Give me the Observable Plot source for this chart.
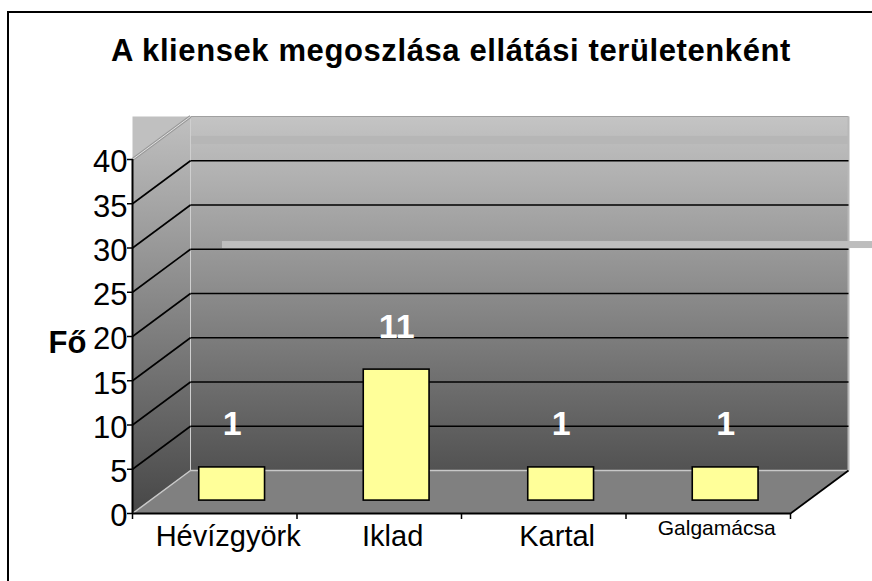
<!DOCTYPE html>
<html>
<head>
<meta charset="utf-8">
<script src="https://cdn.jsdelivr.net/npm/d3@7"></script>
<script src="https://cdn.jsdelivr.net/npm/@observablehq/plot@0.6"></script>
<style>
  body { margin: 0; background: #fff; }
  #wrap { position: relative; width: 872px; height: 581px; overflow: hidden; font-family: "Liberation Sans", Arial, sans-serif; }
  #chart { position: absolute; left: 0; top: 0; }
  #frame { position: absolute; left: 7px; top: 11px; width: 900px; height: 620px; border-left: 2px solid #000; border-top: 2px solid #000; pointer-events: none; }
  #title { position: absolute; left: 0; top: 35px; width: 902px; text-align: center; font-weight: bold; font-size: 31px; line-height: 31px; letter-spacing: 0.6px; color: #000; }
</style>
</head>
<body>
<div id="wrap">
  <div id="chart"></div>
  <div id="frame"></div>
  <div id="title"></div>
</div>
<script>
// ---- data ----
const title = "A kliensek megoszlása ellátási területenként";
const categories = ["Hévízgyörk", "Iklad", "Kartal", "Galgamácsa"];
const values = [3.75, 14.8, 3.75, 3.75];      // bar heights as read on the axis
const dataLabels = ["1", "11", "1", "1"];      // labels printed above the bars
const yTicks = [0, 5, 10, 15, 20, 25, 30, 35, 40];
const yLabel = "Fő";

document.getElementById("title").textContent = title;

// ---- oblique 3D projection (in scale units) ----
const W = 872, H = 581;
const mL = 132, mR = 82, mT = 159, mB = 68;
const xPerPx = 4 / (W - mL - mR);
const yPerPx = 40 / (H - mT - mB);
const DX = 58 * xPerPx;   // depth shift of the back wall
const DY = 43 * yPerPx;
const BD = 0.3;           // depth of the bars
const proj = (i, v, d) => ({x: i + d * DX, y: v + d * DY});

const rows = categories.map((c, i) => ({i, cat: c, value: values[i], label: dataLabels[i]}));
// the original shrank the last category label to fit
const shrunk = d => d.i === categories.length - 1;

const backWall = [proj(0, 0, 1), proj(4, 0, 1), proj(4, 40, 1), proj(0, 40, 1)];
const leftWall = [proj(0, 0, 0), proj(0, 0, 1), proj(0, 40, 1), proj(0, 40, 0)];
const corner = [{x: 0, y: 40 + DY}, proj(0, 40, 1), proj(0, 40, 0)];
const floor = [proj(0, 0, 0), proj(4, 0, 0), proj(4, 0, 1), proj(0, 0, 1)];
const inner = yTicks.filter(v => v > 0 && v < 40);

const svg = Plot.plot({
  width: W, height: H,
  marginLeft: mL, marginRight: mR, marginTop: mT, marginBottom: mB,
  x: {domain: [0, 4], axis: null},
  y: {domain: [0, 40], axis: null},
  style: {fontFamily: "'Liberation Sans', Arial, sans-serif", background: "transparent", overflow: "visible", color: "#000"},
  marks: [
    // walls and floor
    Plot.line(corner, {x: "x", y: "y", fill: "#c0c0c0", stroke: "none"}),
    Plot.line(backWall, {x: "x", y: "y", fill: "url(#gBack)", stroke: "none"}),
    Plot.line(leftWall, {x: "x", y: "y", fill: "url(#gLeft)", stroke: "none"}),
    Plot.line(floor, {x: "x", y: "y", fill: "#808080", stroke: "none"}),
    // artefact band of the original image
    Plot.rect([0], {x1: () => DX, x2: () => 4 + DX, y1: () => 41.7, y2: () => 42.6, fill: "#b6b6b6"}),
    // back wall edges
    Plot.link([40], {x1: () => DX, x2: () => 4 + DX, y1: v => v + DY, y2: v => v + DY, stroke: "#a0a0a0", strokeWidth: 1.2}),
    Plot.link([0], {x1: () => 4 + DX, x2: () => 4 + DX, y1: () => DY, y2: () => 40 + DY, stroke: "#b8b8b8", strokeWidth: 2}),
    Plot.link([0], {x1: () => DX, x2: () => DX, y1: () => DY, y2: () => 40 + DY, stroke: "#cfcfcf", strokeWidth: 1}),
    // gridlines on back wall
    Plot.link(inner, {x1: () => DX, x2: () => 4 + DX, y1: v => v + DY, y2: v => v + DY, stroke: "#000", strokeWidth: 1.6}),
    // gridlines on left wall
    Plot.link(inner, {x1: () => 0, x2: () => DX, y1: v => v, y2: v => v + DY, stroke: "#000", strokeWidth: 1.6}),
    Plot.link([40], {x1: () => 0, x2: () => DX, y1: v => v, y2: v => v + DY, stroke: "#9a9a9a", strokeWidth: 3}),
    Plot.link([40], {x1: () => 0, x2: () => DX, y1: v => v, y2: v => v + DY, stroke: "#e4e4e4", strokeWidth: 1}),
    // floor edges
    Plot.link([0], {x1: () => DX, x2: () => 4 + DX, y1: () => DY, y2: () => DY, stroke: "#c8c8c8", strokeWidth: 1.5}),
    Plot.link([0], {x1: () => 0, x2: () => DX, y1: () => 0, y2: () => DY, stroke: "#c8c8c8", strokeWidth: 1.5}),
    Plot.link([0], {x1: () => 4, x2: () => 4 + DX, y1: () => 0, y2: () => DY, stroke: "#000", strokeWidth: 1.8}),
    // artefact strip of the original image
    Plot.rect([0], {x1: () => 0.547, x2: () => 4.5, y1: () => 29.94, y2: () => 30.73, fill: "#bdbdbd"}),
    // bars
    Plot.rect(rows, {
      x1: d => d.i + 0.5 - 0.2 + BD * DX, x2: d => d.i + 0.5 + 0.2 + BD * DX,
      y1: () => BD * DY, y2: d => d.value + BD * DY,
      fill: "#ffff99", stroke: "#000", strokeWidth: 1.6
    }),
    // data labels
    Plot.text(rows, {
      x: d => d.i + 0.5 + BD * DX, y: d => d.value + BD * DY, text: "label",
      dy: -43, fill: "#fff", fontWeight: "bold", fontSize: 34
    }),
    // axes
    Plot.ruleY([0], {stroke: "#000", strokeWidth: 2}),
    Plot.ruleX([0], {stroke: "#000", strokeWidth: 2}),
    Plot.axisY({ticks: yTicks, tickFormat: () => "", label: null, tickSize: 5, stroke: "#000", strokeWidth: 1.5}),
    Plot.text(yTicks, {frameAnchor: "left", y: d => d, text: d => String(d), textAnchor: "end", dx: -5, dy: 3, fontSize: 31, fill: "#000"}),
    Plot.axisX({ticks: [0, 1, 2, 3, 4], tickFormat: () => "", label: null, tickSize: 6, stroke: "#000", strokeWidth: 1.5}),
    Plot.text(rows.filter(d => !shrunk(d)), {
      x: d => d.i + 0.5 + BD * DX, y: () => 0, text: "cat", dx: -4, dy: 12,
      lineAnchor: "top", fontSize: 29, fill: "#000"
    }),
    Plot.text(rows.filter(shrunk), {
      x: d => d.i + 0.5 + BD * DX, y: () => 0, text: "cat", dx: -9, dy: 7,
      lineAnchor: "top", fontSize: 21, fill: "#000"
    }),
    Plot.text([yLabel], {frameAnchor: "left", y: () => 20, dx: -65, dy: 7, textAnchor: "middle", fontWeight: "bold", fontSize: 31, fill: "#000"})
  ]
});

d3.select(svg).insert("defs", ":first-child").html(
  '<linearGradient id="gBack" x1="0" y1="0" x2="0" y2="1">' +
  '<stop offset="0" stop-color="#c4c4c4"/><stop offset="1" stop-color="#525252"/></linearGradient>' +
  '<linearGradient id="gLeft" x1="0" y1="0" x2="0" y2="1">' +
  '<stop offset="0" stop-color="#c0c0c0"/><stop offset="1" stop-color="#474747"/></linearGradient>'
);

document.getElementById("chart").appendChild(svg);
</script>
</body>
</html>
